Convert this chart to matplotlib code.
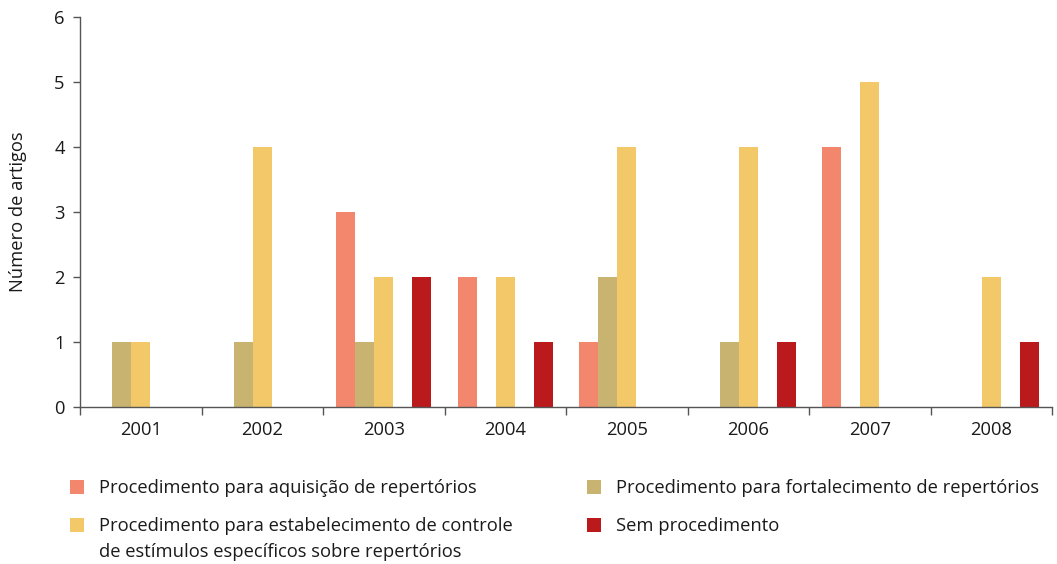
import matplotlib
matplotlib.use("Agg")
import matplotlib.pyplot as plt
from matplotlib.patches import Rectangle
import numpy as np

years = ["2001", "2002", "2003", "2004", "2005", "2006", "2007", "2008"]
aquisicao = [0, 0, 3, 2, 1, 0, 4, 0]
fortalecimento = [1, 1, 1, 0, 2, 1, 0, 0]
estabelecimento = [1, 4, 2, 2, 4, 4, 5, 2]
sem_proc = [0, 0, 2, 1, 0, 1, 0, 1]

labels = [
    "Procedimento para aquisição de repertórios",
    "Procedimento para fortalecimento de repertórios",
    "Procedimento para estabelecimento de controle\nde estímulos específicos sobre repertórios",
    "Sem procedimento",
]
colors = ["#F3876E", "#C8B470", "#F2C868", "#BB1A1C"]

FS = 13.2
plt.rcParams['font.family'] = ['Open Sans', 'DejaVu Sans']
W, H = 1057, 564
fig = plt.figure(figsize=(W / 100, H / 100), dpi=100)
ax = fig.add_axes([80 / W, (H - 407) / H, (1052 - 80) / W, (407 - 17) / H])

x = np.arange(len(years))
slot = 0.156
series = [aquisicao, fortalecimento, estabelecimento, sem_proc]
offsets = [-2, -1, 0, 2]
for vals, off, c in zip(series, offsets, colors):
    ax.bar(x + off * slot, vals, width=slot, color=c, linewidth=0)

ax.set_xlim(-0.5, len(years) - 0.5)
ax.set_ylim(0, 6)
ax.set_yticks(range(0, 7))
ax.set_xticks(x)
ax.set_xticklabels(years)
ax.set_xticks(np.arange(-0.5, len(years)), minor=True)
ax.tick_params(axis='x', which='major', length=0, pad=10, labelsize=FS, colors='#1a1a1a')
ax.tick_params(axis='x', which='minor', length=6, width=1, color='#555555')
ax.tick_params(axis='y', length=5, width=1, color='#555555', pad=6, labelsize=FS, labelcolor='#1a1a1a')
for s in ['top', 'right']:
    ax.spines[s].set_visible(False)
for s in ['left', 'bottom']:
    ax.spines[s].set_color('#555555')
    ax.spines[s].set_linewidth(1)

fig.text(18 / W, (H - 212) / H, "Número de artigos", rotation=90, ha='center', va='center',
         fontsize=FS, color='#1a1a1a')

# legend (manual layout)
leg = [
    (70, 487, labels[0], colors[0]),
    (70, 525, labels[2], colors[2]),
    (587, 487, labels[1], colors[1]),
    (587, 525, labels[3], colors[3]),
]
for px, py, lab, c in leg:
    fig.add_artist(Rectangle((px / W, (H - py - 7) / H), 14 / W, 14 / H, color=c,
                             transform=fig.transFigure, linewidth=0))
    first_line_baseline = (H - py - 6) / H
    for i, ln in enumerate(lab.split('\n')):
        fig.text((px + 29) / W, first_line_baseline - i * 26 / H, ln, ha='left', va='baseline',
                 fontsize=FS, color='#1a1a1a')

fig.savefig("out.png", dpi=100)
